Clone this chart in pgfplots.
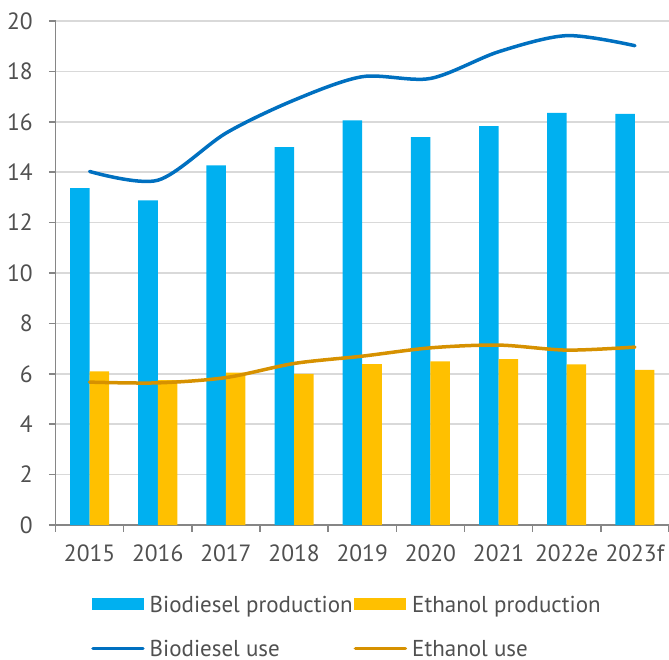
\documentclass[border=0pt]{standalone}
\usepackage{fontspec}
\setmainfont{PT Sans}
\usepackage{pgfplots}
\pgfplotsset{compat=1.18}

\definecolor{bdprod}{RGB}{0,176,240}
\definecolor{etprod}{RGB}{255,192,0}
\definecolor{bduse}{RGB}{0,112,192}
\definecolor{etuse}{RGB}{214,145,0}
\definecolor{txtgray}{RGB}{80,80,80}
\definecolor{axisgray}{RGB}{134,134,134}
\definecolor{gridgray}{RGB}{217,217,217}

\begin{document}
\begin{tikzpicture}[font=\fontsize{23.5}{27}\selectfont]
\useasboundingbox (-55.5pt,-134pt) rectangle (613.5pt,525pt);
\begin{axis}[
  at={(0pt,0pt)}, anchor=south west,
  scale only axis, width=613.5pt, height=504pt,
  xmin=-0.5, xmax=8.5, ymin=0, ymax=20,
  axis lines*=left,
  axis line style={draw=axisgray, line width=1.5pt},
  ytick={0,2,...,20},
  xtick={0,...,8},
  xticklabels={2015,2016,2017,2018,2019,2020,2021,2022e,2023f},
  minor xtick={-0.5,0.5,...,8.5},
  major x tick style={draw=none},
  minor x tick style={draw=axisgray, line width=1.5pt},
  major y tick style={draw=axisgray, line width=1.5pt},
  tick align=outside,
  major tick length=6.5pt, minor tick length=6.5pt,
  ymajorgrids,
  major grid style={draw=gridgray, line width=1.5pt},
  /pgf/number format/assume math mode=true,
  ticklabel style={text=txtgray, font=\fontsize{23.5}{27}\selectfont},
  yticklabel style={inner xsep=0pt, xshift=-16pt},
  xticklabel style={anchor=north, inner ysep=0pt, text height=16.7pt, text depth=0pt, yshift=-13.5pt},
  legend columns=2,
  legend cell align=left,
  legend style={at={(0.0579,-0.140)}, anchor=north west, draw=none, fill=none,
    inner sep=0pt, text=txtgray, font=\fontsize{23}{27}\selectfont,
    nodes={inner sep=0pt, text height=16.7pt, text depth=0pt},
    row sep=27.5pt,
    /tikz/every odd column/.append style={column sep=5pt},
    /tikz/every even column/.append style={column sep=1pt}},
]
\addplot[ybar, bar width=19.5pt, bar shift=-9.75pt, fill=bdprod, draw=none,
  legend image code/.code={\fill[bdprod] (0pt,-6.35pt) rectangle (52pt,6.35pt);}]
  coordinates {(0,13.37)(1,12.88)(2,14.27)(3,15.00)(4,16.06)(5,15.39)(6,15.83)(7,16.35)(8,16.31)};
\addlegendentry{Biodiesel production}
\addplot[ybar, bar width=19.5pt, bar shift=9.75pt, fill=etprod, draw=none,
  legend image code/.code={\fill[etprod] (0pt,-6.35pt) rectangle (52pt,6.35pt);}]
  coordinates {(0,6.10)(1,5.75)(2,6.05)(3,6.00)(4,6.38)(5,6.49)(6,6.58)(7,6.37)(8,6.16)};
\addlegendentry{Ethanol production}
\addplot[bduse, line width=3.5pt, smooth, tension=0.5, line cap=round,
  legend image code/.code={\draw[bduse, line width=3.5pt, line cap=round] (1pt,0pt) -- (51pt,0pt);}]
  coordinates {(0,14.03)(1,13.68)(2,15.55)(3,16.86)(4,17.79)(5,17.72)(6,18.78)(7,19.42)(8,19.02)};
\addlegendentry{Biodiesel use}
\addplot[etuse, line width=3.5pt, smooth, tension=0.5, line cap=round,
  legend image code/.code={\draw[etuse, line width=3.5pt, line cap=round] (1pt,0pt) -- (51pt,0pt);}]
  coordinates {(0,5.67)(1,5.64)(2,5.85)(3,6.41)(4,6.70)(5,7.03)(6,7.14)(7,6.94)(8,7.06)};
\addlegendentry{Ethanol use}
\end{axis}
\end{tikzpicture}
\end{document}
